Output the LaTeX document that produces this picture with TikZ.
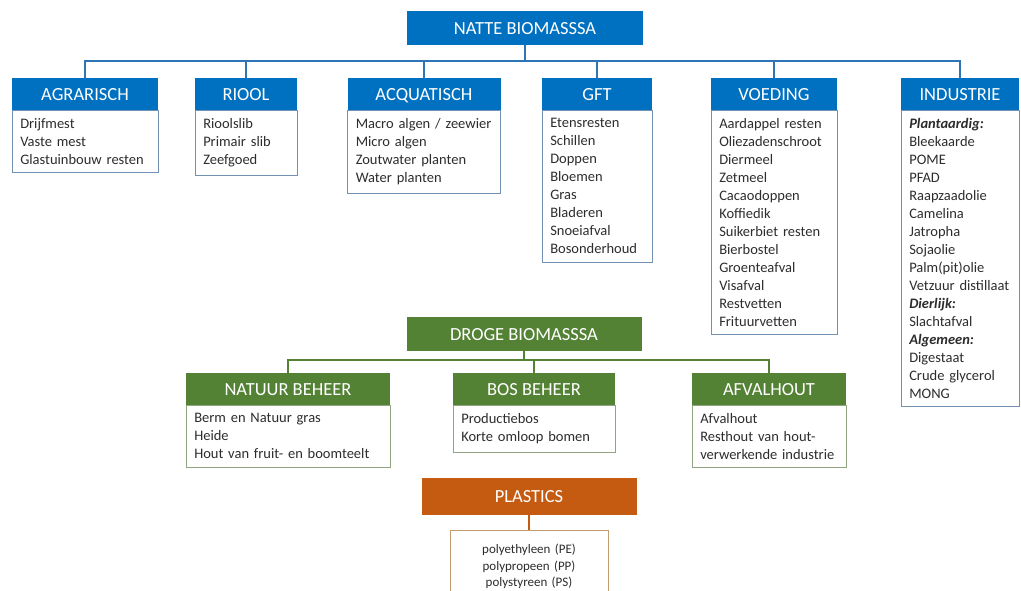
\documentclass[tikz,border=0pt]{standalone}
\usepackage{fontspec}
\setmainfont{Carlito}
\usetikzlibrary{positioning}
\definecolor{natblue}{RGB}{0,112,192}
\definecolor{linkblue}{RGB}{46,117,182}
\definecolor{edgeblue}{RGB}{115,145,178}
\definecolor{drygreen}{RGB}{84,130,53}
\definecolor{edgegreen}{RGB}{145,165,130}
\definecolor{plasorange}{RGB}{197,90,17}
\definecolor{edgeorange}{RGB}{195,155,115}
\definecolor{bodytext}{RGB}{45,45,45}

\begin{document}
\begin{tikzpicture}[x=1pt,y=-1pt,
  hdr/.style={fill=#1, text=white, minimum height=32pt, inner sep=0pt,
    text height=13pt, text depth=0pt, font=\fontsize{18.5}{20}\selectfont},
  body/.style={draw=#1, fill=white, line width=0.9pt, anchor=north west,
    align=left, inner xsep=8pt, inner ysep=8pt, text=bodytext,
    font=\fontsize{14.5}{18}\selectfont},
  link/.style={draw=#1, line width=1.6pt}
]
\useasboundingbox (0,0) rectangle (1021,591);
\clip (0,0) rectangle (1021,591);

% Natte biomassa
\node[hdr=natblue, minimum width=236, minimum height=34] (natte) at (525,28) {NATTE BIOMASSSA};

\node[hdr=natblue, minimum width=146] (agr) at (85,94) {AGRARISCH};
\node[hdr=natblue, minimum width=102] (riool) at (246,94) {RIOOL};
\node[hdr=natblue, minimum width=153] (aqua) at (424,94) {ACQUATISCH};
\node[hdr=natblue, minimum width=110] (gft) at (597,94) {GFT};
\node[hdr=natblue, minimum width=126] (voed) at (774,94) {VOEDING};
\node[hdr=natblue, minimum width=118] (ind) at (960,94) {INDUSTRIE};

\node[body=edgeblue, text width=130] (agrb) at (agr.south west)
  {Drijfmest\\Vaste mest\\Glastuinbouw resten};
\node[body=edgeblue, text width=86] (rioolb) at (riool.south west)
  {Rioolslib\\Primair slib\\Zeefgoed};
\node[body=edgeblue, text width=137] (aquab) at (aqua.south west)
  {Macro algen / zeewier\\Micro algen\\Zoutwater planten\\Water planten};
\node[body=edgeblue, text width=94] (gftb) at (gft.south west)
  {Etensresten\\Schillen\\Doppen\\Bloemen\\Gras\\Bladeren\\Snoeiafval\\Bosonderhoud};
\node[body=edgeblue, text width=110] (voedb) at (voed.south west)
  {Aardappel resten\\Oliezadenschroot\\Diermeel\\Zetmeel\\Cacaodoppen\\Koffiedik\\%
   Suikerbiet resten\\Bierbostel\\Groenteafval\\Visafval\\Restvetten\\Frituurvetten};
\node[body=edgeblue, text width=102] (indb) at (ind.south west)
  {\textbf{\textit{Plantaardig:}}\\Bleekaarde\\POME\\PFAD\\Raapzaadolie\\Camelina\\%
   Jatropha\\Sojaolie\\Palm(pit)olie\\Vetzuur distillaat\\\textbf{\textit{Dierlijk:}}\\%
   Slachtafval\\\textbf{\textit{Algemeen:}}\\Digestaat\\Crude glycerol\\MONG};

\foreach \kid in {agr,riool,aqua,gft,voed,ind}
  \draw[link=linkblue] (natte.south) -- ++(0,16) -| (\kid.north);

% Droge biomassa
\node[hdr=drygreen, minimum width=235, minimum height=34] (droge) at (524,334) {DROGE BIOMASSSA};

\node[hdr=drygreen, minimum width=204] (natuur) at (288,389) {NATUUR BEHEER};
\node[hdr=drygreen, minimum width=162] (bos) at (534,389) {BOS BEHEER};
\node[hdr=drygreen, minimum width=154] (afval) at (769,389) {AFVALHOUT};

\node[body=edgegreen, text width=188] (natuurb) at (natuur.south west)
  {Berm en Natuur gras\\Heide\\Hout van fruit- en boomteelt};
\node[body=edgegreen, text width=146] (bosb) at (bos.south west)
  {Productiebos\\Korte omloop bomen};
\node[body=edgegreen, text width=138] (afvalb) at (afval.south west)
  {Afvalhout\\Resthout van hout-\\verwerkende industrie};

\foreach \kid in {natuur,bos,afval}
  \draw[link=drygreen] (droge.south) -- ++(0,9) -| (\kid.north);

% Plastics
\node[hdr=plasorange, minimum width=215, minimum height=37] (plas) at (529,496) {PLASTICS};
\node[body=edgeorange, anchor=north, align=center, text width=142, minimum height=72,
  font=\fontsize{13}{16.5}\selectfont] (plasb) at (529,530)
  {polyethyleen (PE)\\polypropeen (PP)\\polystyreen (PS)};
\draw[link=plasorange] (plas.south) -- (plasb.north);

\end{tikzpicture}
\end{document}
